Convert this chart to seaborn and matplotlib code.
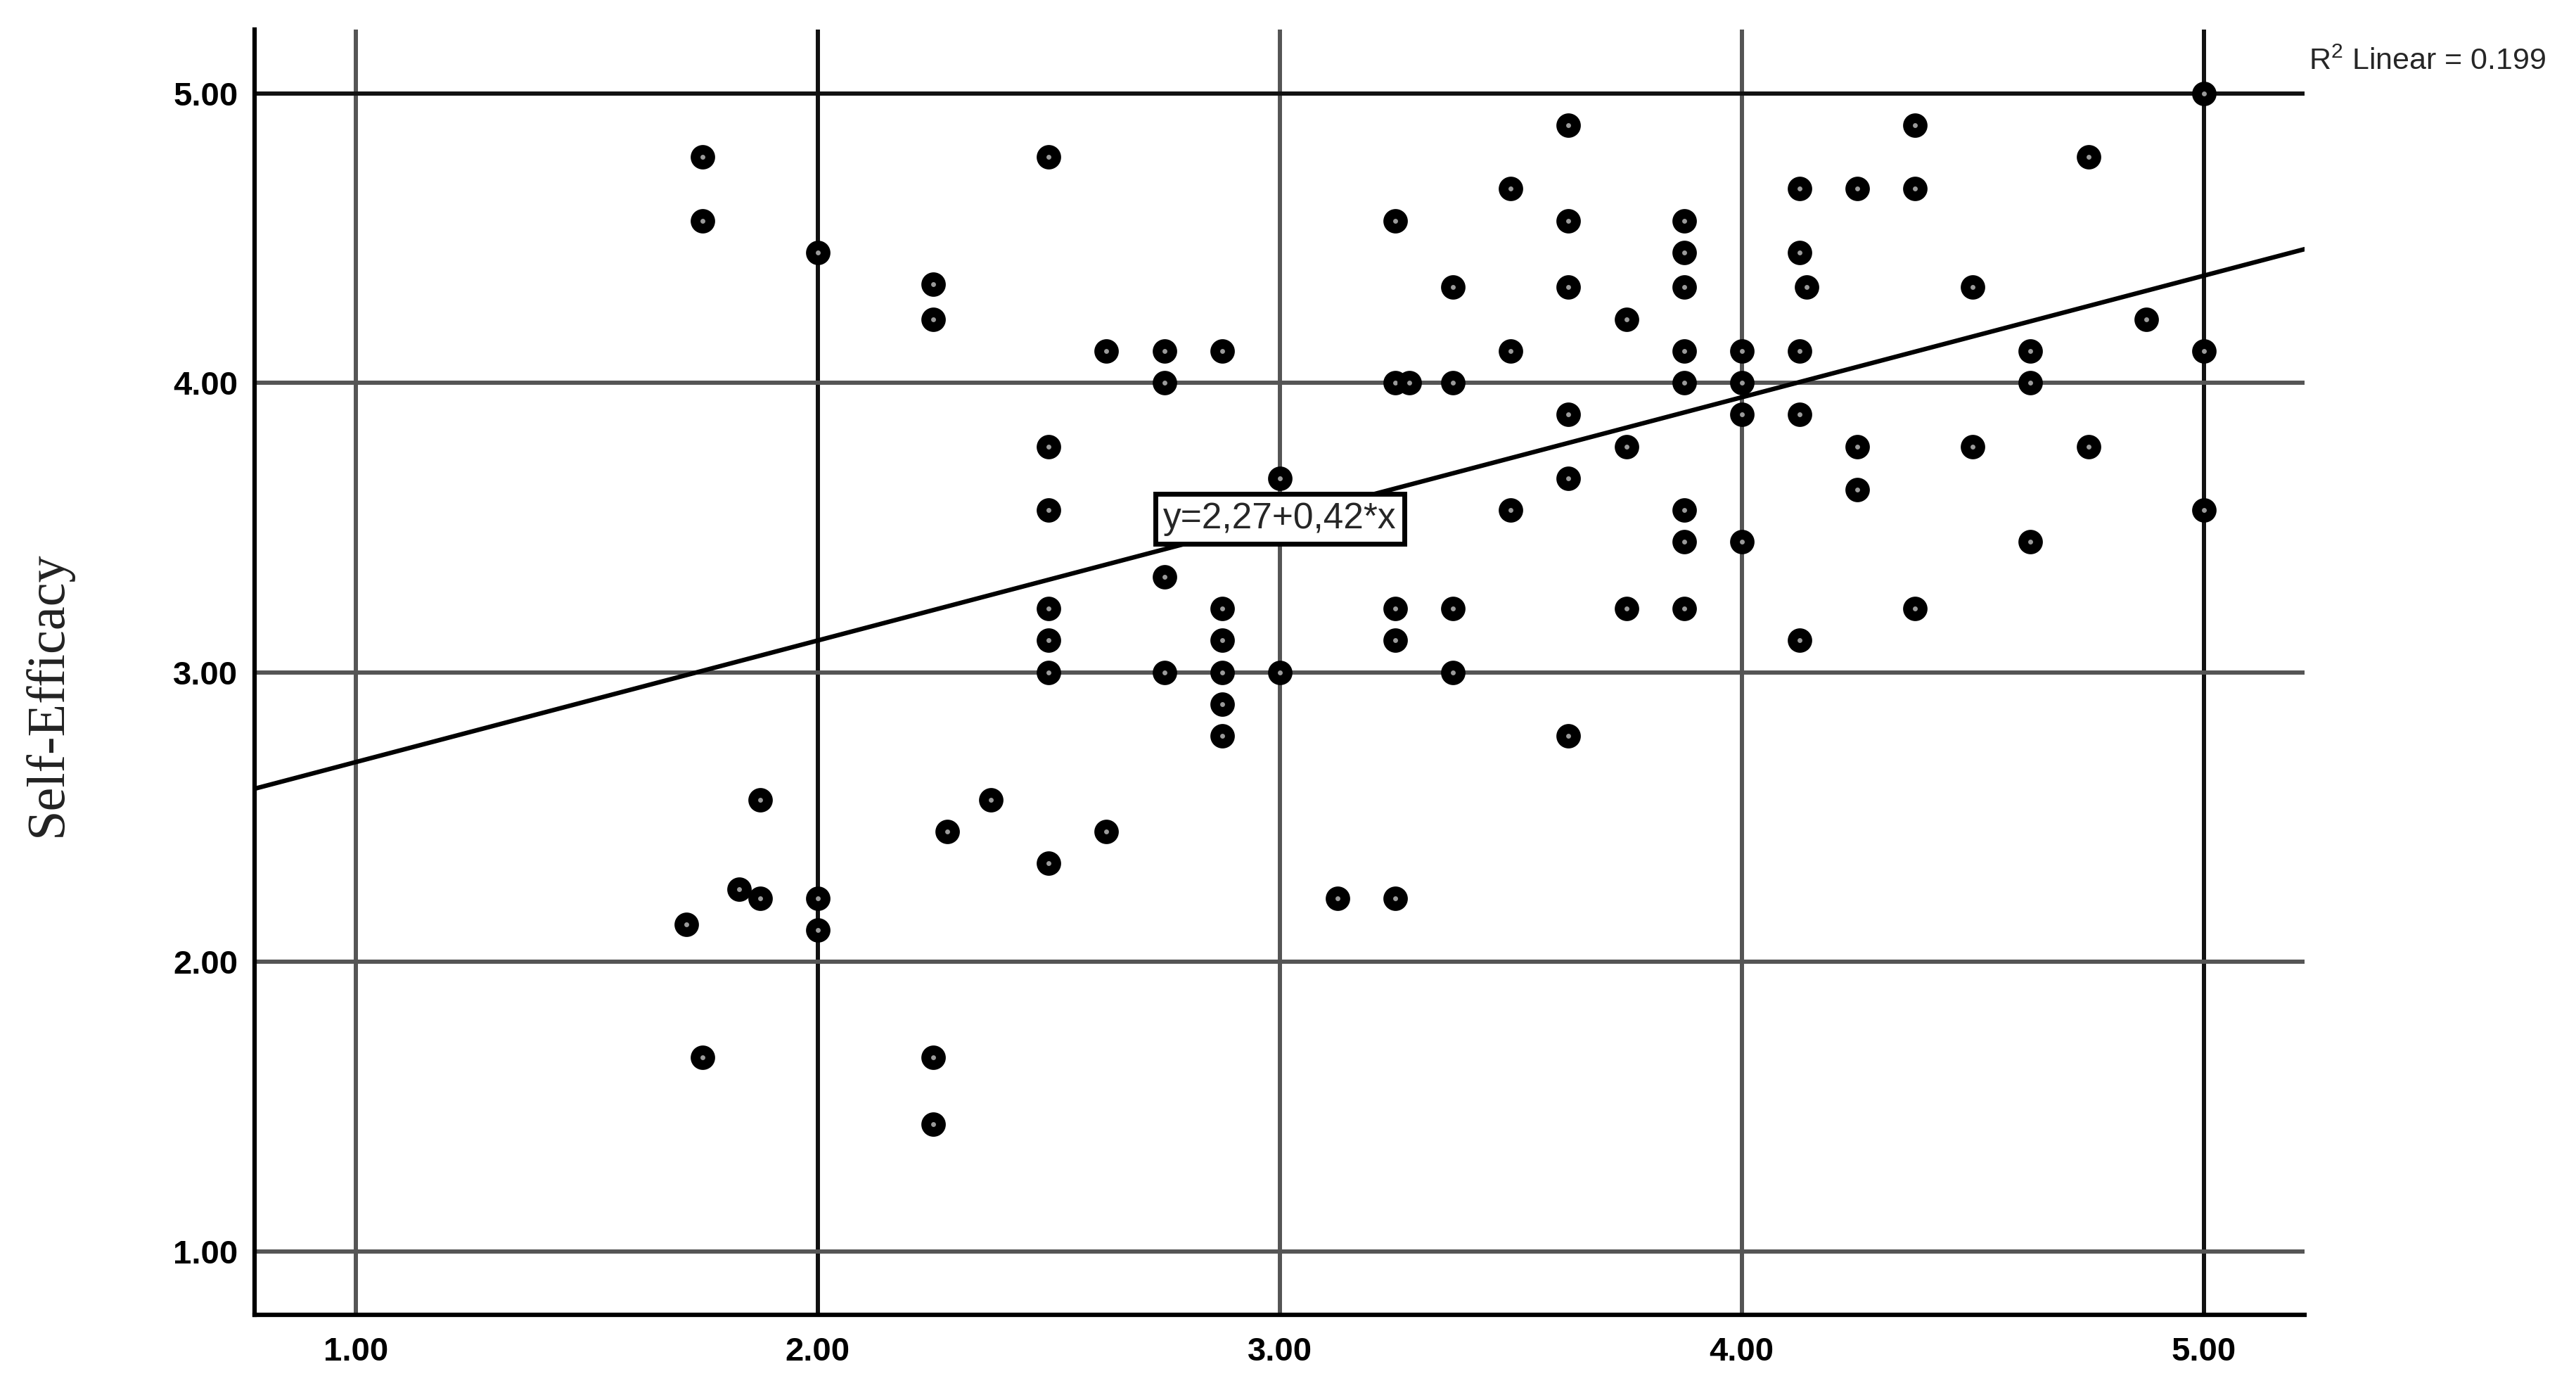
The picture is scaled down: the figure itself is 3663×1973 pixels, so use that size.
import numpy as np
import seaborn as sns
import matplotlib.pyplot as plt
from matplotlib.ticker import FixedLocator, FormatStrFormatter

# points (x, y), grouped roughly by column
x_vals = [1.75, 1.75, 1.715, 1.75, 1.83, 1.875, 1.875,
          2.0, 2.0, 2.0,
          2.25, 2.25, 2.25, 2.25, 2.28, 2.375,
          2.5, 2.5, 2.5, 2.5, 2.5, 2.5, 2.5,
          2.625, 2.625,
          2.75, 2.75, 2.75, 2.75,
          2.875, 2.875, 2.875, 2.875, 2.875, 2.875,
          3.0, 3.0, 3.125,
          3.25, 3.25, 3.25, 3.25, 3.25, 3.28,
          3.375, 3.375, 3.375, 3.375,
          3.5, 3.5, 3.5,
          3.625, 3.625, 3.625, 3.625, 3.625, 3.625,
          3.75, 3.75, 3.75,
          3.875, 3.875, 3.875, 3.875, 3.875, 3.875, 3.875, 3.875,
          4.0, 4.0, 4.0, 4.0,
          4.125, 4.125, 4.14, 4.125, 4.125, 4.125,
          4.25, 4.25, 4.25,
          4.375, 4.375, 4.375,
          4.5, 4.5,
          4.625, 4.625, 4.625,
          4.75, 4.75,
          4.875,
          5.0, 5.0, 5.0]
y_vals = [4.78, 4.56, 2.13, 1.67, 2.25, 2.56, 2.22,
          4.45, 2.22, 2.11,
          4.34, 4.22, 1.67, 1.44, 2.45, 2.56,
          4.78, 3.78, 3.56, 3.22, 3.11, 3.00, 2.34,
          4.11, 2.45,
          4.11, 4.00, 3.33, 3.00,
          4.11, 3.22, 3.11, 3.00, 2.89, 2.78,
          3.67, 3.00, 2.22,
          4.56, 4.00, 3.22, 3.11, 2.22, 4.00,
          4.33, 4.00, 3.22, 3.00,
          4.67, 4.11, 3.56,
          4.89, 4.56, 4.33, 3.89, 3.67, 2.78,
          4.22, 3.78, 3.22,
          4.56, 4.45, 4.33, 4.11, 4.00, 3.56, 3.45, 3.22,
          4.11, 4.00, 3.89, 3.45,
          4.67, 4.45, 4.33, 4.11, 3.89, 3.11,
          4.67, 3.78, 3.63,
          4.89, 4.67, 3.22,
          4.33, 3.78,
          4.11, 4.00, 3.45,
          4.78, 3.78,
          4.22,
          5.00, 4.11, 3.56]

intercept = 2.27
slope = 0.42
r_squared = 0.199
ticks = [1.0, 2.0, 3.0, 4.0, 5.0]

sns.set_style("white")
plt.rcParams['font.family'] = ['Liberation Sans', 'DejaVu Sans']
plt.rcParams['mathtext.fontset'] = 'custom'
plt.rcParams['mathtext.rm'] = 'Liberation Sans'
plt.rcParams['mathtext.default'] = 'regular'

fig = plt.figure(figsize=(36.63, 19.73), dpi=100)
ax = fig.add_axes([362/3663, 1 - 1869/1973, 2915/3663, 1827/1973])

# fit line as reported
ax.axline((0, intercept), slope=slope, color='black', lw=4.6, zorder=2)

sns.scatterplot(x=x_vals, y=y_vals, ax=ax, s=225, color='#9a9a9a',
                edgecolor='black', linewidth=10, zorder=4, legend=False)

ax.set_xlim(0.781, 5.218)
ax.set_ylim(0.781, 5.22)
ax.xaxis.set_major_locator(FixedLocator(ticks))
ax.yaxis.set_major_locator(FixedLocator(ticks))
ax.xaxis.set_major_formatter(FormatStrFormatter('%.2f'))
ax.yaxis.set_major_formatter(FormatStrFormatter('%.2f'))
ax.tick_params(axis='both', length=0, labelsize=34, labelcolor='black')
ax.tick_params(axis='y', pad=17)
ax.tick_params(axis='x', pad=22)
for lab in ax.get_xticklabels() + ax.get_yticklabels():
    lab.set_fontweight('bold')

ax.set_axisbelow(True)
ax.grid(True, color='#555555', lw=4.3)
# some grid lines come out darker in the original
ax.get_xgridlines()[1].set_color('#111111')
ax.get_xgridlines()[4].set_color('#111111')
ax.get_ygridlines()[4].set_color('#111111')

sns.despine(ax=ax)
for side in ['left', 'bottom']:
    ax.spines[side].set_color('black')
    ax.spines[side].set_linewidth(4.5)

eq = 'y={:.2f}+{:.2f}*x'.format(intercept, slope).replace('.', ',')
ax.text(3.0, intercept + slope * 3.0, eq, fontsize=37, ha='center', va='center',
        zorder=3, bbox=dict(boxstyle='square,pad=0.22', fc='white', ec='black', lw=5))

ax.text(1.002, 0.969, r'R$^2$ Linear = {:.3f}'.format(r_squared), transform=ax.transAxes,
        fontsize=31, ha='left', va='baseline')

ax.set_ylabel('Self-Efficacy', fontsize=55, color='#222222',
              family=['Liberation Serif', 'DejaVu Serif'])
ax.yaxis.set_label_coords(-0.089, 0.483)

fig.savefig('out.png', dpi=100)
